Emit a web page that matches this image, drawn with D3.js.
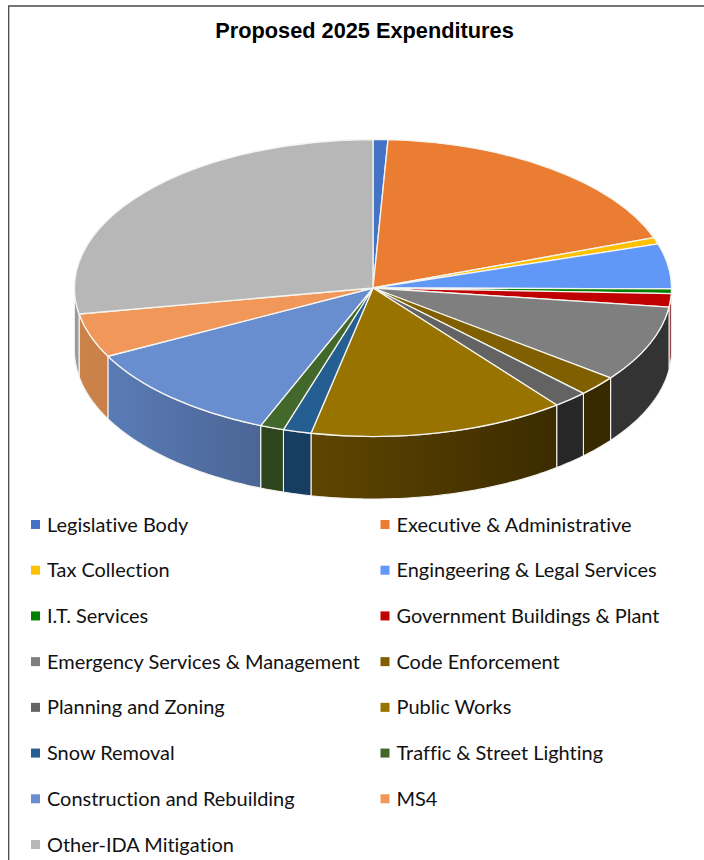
<!DOCTYPE html>
<html>
<head>
<meta charset="utf-8">
<script src="https://cdn.jsdelivr.net/npm/d3@7"></script>
<style>html,body{margin:0;padding:0;background:#fff;overflow:hidden}svg{display:block}</style>
</head>
<body>
<script>
const categories = ["Legislative Body","Executive & Administrative","Tax Collection","Engingeering & Legal Services","I.T. Services","Government Buildings & Plant","Emergency Services & Management","Code Enforcement","Planning and Zoning","Public Works","Snow Removal","Traffic & Street Lighting","Construction and Rebuilding","MS4","Other-IDA Mitigation"];
const shares = [0.8,18.7,0.7,4.9,0.5,1.45,8.3,2.2,1.9,13.88,1.52,1.29,11.26,4.8,27.8];
const topColors = ["#4472C4","#EB7D32","#FFC000","#6198F8","#008000","#C00000","#7F7F7F","#7F5F00","#636363","#997300","#255E91","#43682B","#698ED0","#F1975A","#B7B7B7"];
const wallStart = ["#2f4f88","#a35722","#b28600","#436aad","#005900","#8a1a2a","#333333","#372900","#272727","#5f4500","#173E60","#2C451C","#5a7cb6","#cb834c","#8f8f8f"];
const wallEnd   = ["#2f4f88","#a35722","#b28600","#436aad","#005900","#6d0000","#333333","#372900","#272727","#3b2b00","#173E60","#2C451C","#4b6596","#c97f48","#a8a8a8"];
const title = "Proposed 2025 Expenditures";

const W = 704, H = 860, cx = 373, cy = 288, rx = 298.5, ry = 148.5, depth = 62.5;
const svg = d3.select("body").append("svg").attr("width", W).attr("height", H);
const defs = svg.append("defs");

svg.append("path").attr("d", `M8.7 ${H} V6 H${W}`).attr("fill","none").attr("stroke","#4a4a4a").attr("stroke-width",1.3);
svg.append("text").attr("x",364.5).attr("y",38).attr("text-anchor","middle")
  .attr("font-family","'Liberation Sans',Arial,sans-serif").attr("font-weight",700).attr("font-size",21.75).attr("fill","#000").text(title);

const pieData = d3.pie().sort(null).value(d => d)(shares);
const px = a => cx + rx * Math.sin(a);
const py = a => cy - ry * Math.cos(a);
const frontStart = Math.PI / 2, frontEnd = 3 * Math.PI / 2;

// side walls (front half only)
const wallG = svg.append("g");
pieData.forEach((d, i) => {
  const a0 = Math.max(d.startAngle, frontStart), a1 = Math.min(d.endAngle, frontEnd);
  if (a1 <= a0) return;
  const n = Math.max(2, Math.ceil((a1 - a0) * 60));
  const angles = d3.range(n + 1).map(k => a0 + (a1 - a0) * k / n);
  const upper = angles.map(a => [px(a), py(a)]);
  const lower = angles.slice().reverse().map(a => [px(a), py(a) + depth]);
  const id = "wall" + i;
  const g = defs.append("linearGradient").attr("id", id).attr("gradientUnits","userSpaceOnUse")
    .attr("x1", px(a1)).attr("x2", px(a0)).attr("y1",0).attr("y2",0);
  g.append("stop").attr("offset",0).attr("stop-color", wallStart[i]);
  g.append("stop").attr("offset",1).attr("stop-color", wallEnd[i]);
  wallG.append("path").attr("d", d3.line()(upper.concat(lower)) + "Z")
    .attr("fill", `url(#${id})`).attr("stroke", "#f2f2ee").attr("stroke-width", 1.1).attr("stroke-linejoin","round");
});

// top face
const arc = d3.arc().innerRadius(0).outerRadius(rx);
svg.append("g").attr("transform", `translate(${cx},${cy}) scale(1,${ry / rx})`)
  .selectAll("path").data(pieData).join("path")
  .attr("d", arc).attr("fill", (d, i) => topColors[i])
  .attr("stroke", "#f4f4f0").attr("stroke-width", 1.3).attr("vector-effect","non-scaling-stroke").attr("stroke-linejoin","round");

// legend
const rowY = d3.scalePoint().domain(d3.range(8)).range([524.5, 844.5]);
const colX = [31, 380.5];
const legend = svg.append("g").selectAll("g").data(categories).join("g")
  .attr("transform", (d, i) => `translate(${colX[i % 2]},${rowY(Math.floor(i / 2))})`);
legend.append("rect").attr("x",0).attr("y",-4.5).attr("width",9).attr("height",9).attr("fill",(d,i)=>topColors[i]);
legend.append("text").attr("x",16).attr("y",7).attr("font-family","Lato,'Open Sans',sans-serif").attr("font-size",19.95)
  .style("font-variant-ligatures","none").attr("fill","#111").text(d=>d);
</script>
</body>
</html>
